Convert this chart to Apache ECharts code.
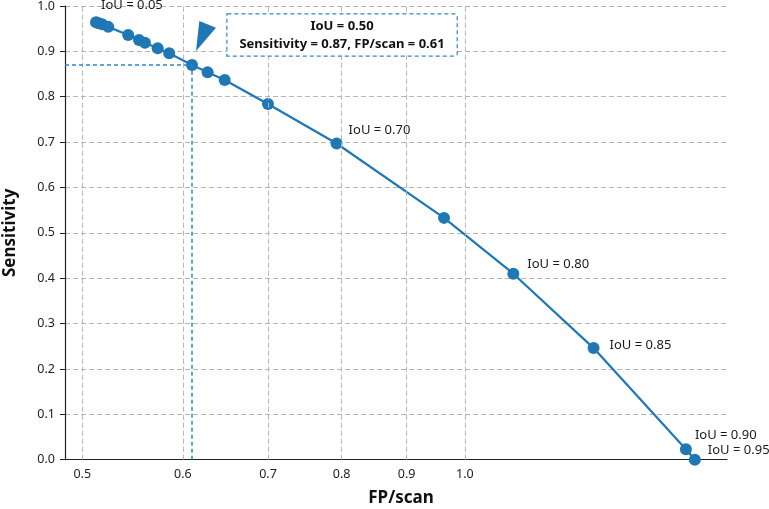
<!DOCTYPE html>
<html>
<head>
<meta charset="utf-8">
<script src="https://cdn.jsdelivr.net/npm/echarts@6/dist/echarts.min.js"></script>
<style>html,body{margin:0;padding:0;background:#fff;}#chart{width:769px;height:509px;}</style>
</head>
<body>
<div id="chart"></div>
<script>
// ---- data ----
const iouLevels = ['0.05','0.10','0.15','0.20','0.25','0.30','0.35','0.40','0.45','0.50','0.55','0.60','0.65','0.70','0.75','0.80','0.85','0.90','0.95'];
const fpPerScan = [0.5126,0.5150,0.5184,0.5241,0.5434,0.5541,0.5601,0.5732,0.5853,0.61,0.6275,0.6472,0.700,0.7927,0.963,1.0918,1.2627,1.4926,1.517];
const sensitivity = [0.964,0.962,0.960,0.954,0.936,0.925,0.919,0.907,0.896,0.87,0.854,0.837,0.784,0.697,0.533,0.410,0.246,0.023,0.0];
const labeledIoU = ['0.05','0.70','0.80','0.85','0.90','0.95'];
const xTicks = [0.5,0.6,0.7,0.8,0.9,1.0];
const highlightIoU = '0.50';
const xRange = [0.4846, 1.608];
const yRange = [0, 1];

// ---- styles ----
const blue = '#1f77b4';
const annoBlue = '#2f86c6';
const gridGray = '#b5b5b5';
const font = '"Noto Sans", sans-serif';
const labelOffsets = {
  '0.05': [-1, -17],
  '0.70': [6, -13],
  '0.80': [8, -9],
  '0.85': [10, -3],
  '0.90': [3, -14],
  '0.95': [7, -9]
};

const hiIdx = iouLevels.indexOf(highlightIoU);
const hiX = fpPerScan[hiIdx], hiY = sensitivity[hiIdx];

const seriesData = fpPerScan.map((x, i) => {
  const iou = iouLevels[i];
  const item = { value: [x, sensitivity[i]] };
  if (labeledIoU.includes(iou)) {
    item.label = {
      show: true,
      formatter: 'IoU = ' + iou,
      position: 'right',
      distance: 0,
      offset: labelOffsets[iou],
      fontSize: 13,
      fontFamily: font,
      color: '#1a1a1a'
    };
  }
  return item;
});

const chart = echarts.init(document.getElementById('chart'), null, { renderer: 'canvas' });
chart.setOption({
  animation: false,
  backgroundColor: '#fff',
  grid: { left: 65, top: 6, right: 42, bottom: 49.3, containLabel: false, outerBoundsMode: 'none' },
  xAxis: {
    type: 'log',
    logBase: 10,
    min: xRange[0],
    max: xRange[1],
    name: 'FP/scan',
    nameLocation: 'middle',
    nameGap: 30,
    nameTextStyle: { fontSize: 17, fontWeight: 'bold', fontFamily: font, color: '#111', padding: [0, 0, 0, 10] },
    axisLine: { show: true, onZero: false, lineStyle: { color: '#222', width: 1.2 } },
    axisTick: { show: false },
    axisLabel: { show: false },
    splitLine: { show: false },
    minorTick: { show: false },
    minorSplitLine: { show: false }
  },
  yAxis: {
    type: 'value',
    min: yRange[0],
    max: yRange[1],
    interval: 0.1,
    name: 'Sensitivity',
    nameLocation: 'middle',
    nameGap: 46,
    nameTextStyle: { fontSize: 17, fontWeight: 'bold', fontFamily: font, color: '#111' },
    axisLine: { show: true, lineStyle: { color: '#222', width: 1.2 } },
    axisTick: { show: true, length: 5, lineStyle: { color: '#222' } },
    axisLabel: { margin: 10, fontSize: 12.5, fontFamily: font, color: '#222', formatter: v => v.toFixed(1) },
    splitLine: { show: true, lineStyle: { color: gridGray, type: [5, 3], width: 1 } }
  },
  series: [
    {
      type: 'line',
      name: 'grid',
      data: [],
      z: 1,
      silent: true,
      markLine: {
        silent: true,
        symbol: ['none', 'none'],
        animation: false,
        lineStyle: { color: gridGray, type: [5, 3], width: 1 },
        label: {
          show: true,
          position: 'start',
          distance: 8,
          formatter: p => Number(p.value).toFixed(1),
          fontSize: 12.5,
          fontFamily: font,
          color: '#222'
        },
        emphasis: { disabled: true },
        data: xTicks.map(v => ({ xAxis: v }))
      }
    },
    {
      type: 'line',
      name: 'annotation',
      data: [],
      z: 2,
      silent: true,
      markLine: {
        silent: true,
        symbol: ['none', 'none'],
        animation: false,
        lineStyle: { color: annoBlue, type: [4, 3], width: 1.5 },
        label: { show: false },
        emphasis: { disabled: true },
        data: [
          [{ coord: [xRange[0], hiY] }, { coord: [hiX, hiY] }],
          [{ coord: [hiX, yRange[0]] }, { coord: [hiX, hiY] }]
        ]
      }
    },
    {
      type: 'line',
      name: 'ROC',
      data: seriesData,
      z: 3,
      clip: false,
      symbol: 'circle',
      symbolSize: 12,
      showAllSymbol: true,
      itemStyle: { color: blue },
      lineStyle: { color: blue, width: 2.2 },
      emphasis: { disabled: true },
      markPoint: {
        silent: true,
        animation: false,
        data: [
          {
            coord: [hiX, hiY],
            symbol: 'path://M3.3,0L20,6.7L0,30Z',
            symbolSize: [20, 30],
            symbolKeepAspect: false,
            symbolOffset: [14, -29],
            itemStyle: { color: blue },
            label: { show: false }
          },
          {
            coord: [hiX, hiY],
            symbol: 'rect',
            symbolSize: 0,
            label: {
              show: true,
              position: 'inside',
              offset: [150, -30],
              align: 'center',
              verticalAlign: 'middle',
              formatter: 'IoU = ' + highlightIoU + '\nSensitivity = ' + hiY.toFixed(2) + ', FP/scan = ' + hiX.toFixed(2),
              fontSize: 13,
              fontWeight: 'bold',
              fontFamily: font,
              color: '#111',
              lineHeight: 18,
              backgroundColor: '#fff',
              borderColor: annoBlue,
              borderWidth: 1.2,
              borderType: [4, 3],
              padding: [3, 12, 2, 12]
            }
          }
        ]
      }
    }
  ]
});
</script>
</body>
</html>
